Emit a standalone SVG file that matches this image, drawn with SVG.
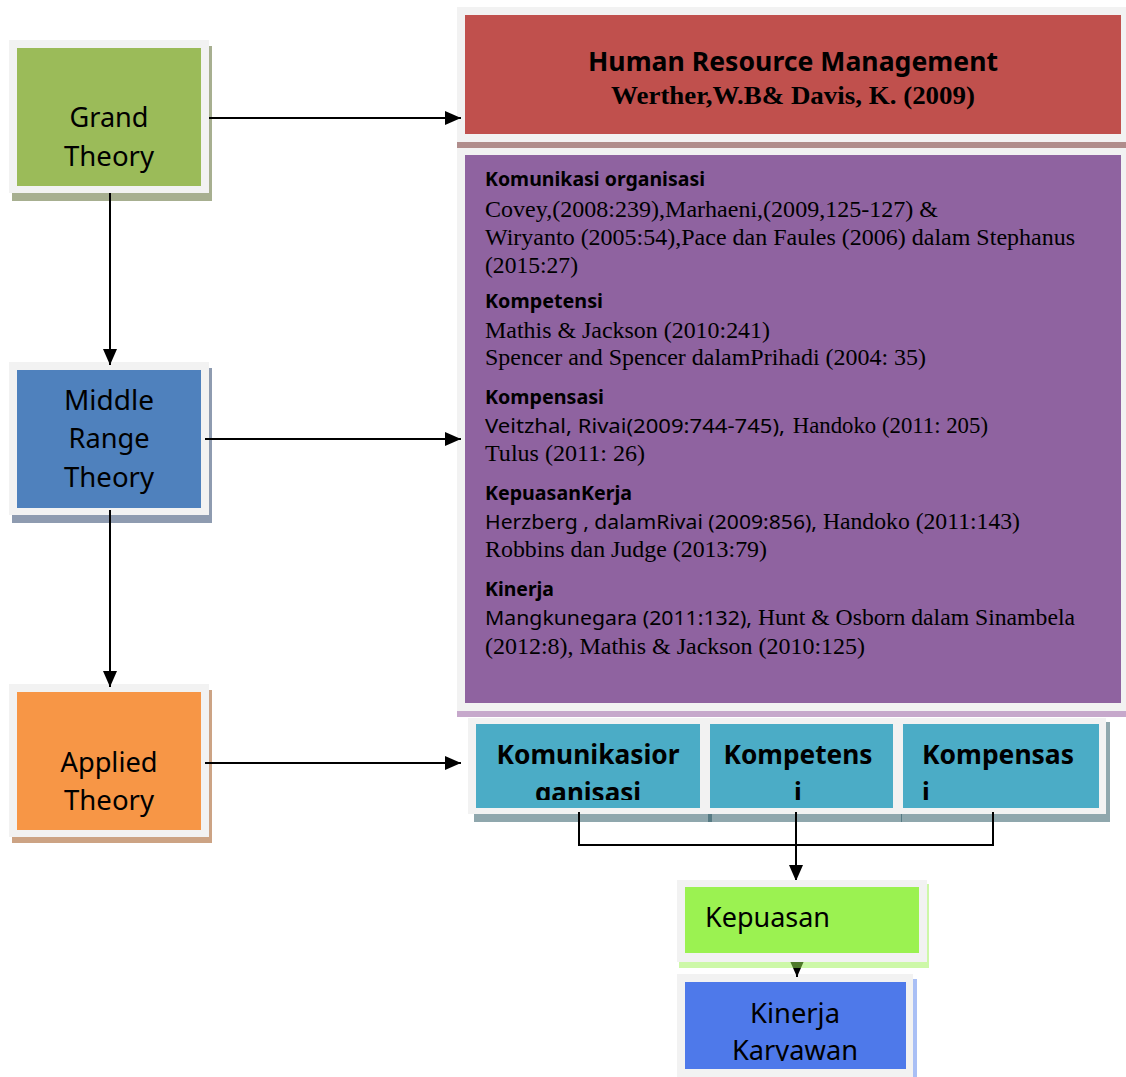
<svg xmlns="http://www.w3.org/2000/svg" width="1126" height="1077" viewBox="0 0 1126 1077">
  <style>
    .frame { fill: #f2f2f2; }
    .sans { font-family: "Noto Sans", "DejaVu Sans", sans-serif; fill: #000; }
    .serif { font-family: "Liberation Serif", "Times New Roman", serif; fill: #000; }
    .big { font-size: 27px; }
    .head { font-size: 19.5px; font-weight: bold; }
    .ref { font-size: 23px; }
    .refsans { font-size: 20px; }
    .tile { font-size: 26px; font-weight: bold; }
    .conn { stroke: #000; stroke-width: 2; fill: none; }
  </style>
  <defs>
    <marker id="arrow" viewBox="0 0 16 14" refX="16" refY="7" markerWidth="16" markerHeight="14" markerUnits="userSpaceOnUse" orient="auto">
      <path d="M0,0 L16,7 L0,14 z" fill="#000"/>
    </marker>
    <clipPath id="clipKom"><rect x="476" y="724" width="224" height="76"/></clipPath>
    <clipPath id="clipKomp"><rect x="710" y="724" width="183" height="76"/></clipPath>
    <clipPath id="clipKomps"><rect x="903" y="724" width="196" height="76"/></clipPath>
    <clipPath id="clipKin"><rect x="685" y="982" width="221" height="79"/></clipPath>
  </defs>

  <rect width="1126" height="1077" fill="#fff"/>

  <!-- left column: theory levels -->
  <g id="grand-theory">
    <rect x="12" y="46" width="200" height="155" fill="#a7af90"/>
    <rect class="frame" x="9" y="40" width="200" height="153"/>
    <rect x="17" y="48" width="184" height="138" fill="#9bbb59"/>
    <text class="sans big" x="109" y="127" text-anchor="middle" textLength="79" lengthAdjust="spacingAndGlyphs">Grand</text>
    <text class="sans big" x="109" y="166" text-anchor="middle" textLength="90" lengthAdjust="spacingAndGlyphs">Theory</text>
  </g>

  <g id="middle-range-theory">
    <rect x="12" y="368" width="200" height="155" fill="#8e9bb0"/>
    <rect class="frame" x="9" y="362" width="200" height="153"/>
    <rect x="17" y="370" width="184" height="138" fill="#4f81bd"/>
    <text class="sans big" x="109" y="410" text-anchor="middle" textLength="90" lengthAdjust="spacingAndGlyphs">Middle</text>
    <text class="sans big" x="109" y="448" text-anchor="middle" textLength="81" lengthAdjust="spacingAndGlyphs">Range</text>
    <text class="sans big" x="109" y="487" text-anchor="middle" textLength="90" lengthAdjust="spacingAndGlyphs">Theory</text>
  </g>

  <g id="applied-theory">
    <rect x="12" y="690" width="200" height="153" fill="#cca384"/>
    <rect class="frame" x="9" y="684" width="200" height="153"/>
    <rect x="17" y="692" width="184" height="138" fill="#f79646"/>
    <text class="sans big" x="109" y="772" text-anchor="middle" textLength="97" lengthAdjust="spacingAndGlyphs">Applied</text>
    <text class="sans big" x="109" y="810" text-anchor="middle" textLength="90" lengthAdjust="spacingAndGlyphs">Theory</text>
  </g>

  <!-- right column -->
  <g id="hrm">
    <rect class="frame" x="457" y="7" width="669" height="136"/>
    <rect x="457" y="142" width="669" height="6" fill="#b08d8c"/>
    <rect x="465" y="15" width="656" height="119" fill="#c0504d"/>
    <text class="sans" x="793" y="71" font-size="26.5" font-weight="bold" text-anchor="middle" textLength="410" lengthAdjust="spacingAndGlyphs">Human Resource Management</text>
    <text class="serif" x="793" y="104" font-size="26" font-weight="bold" text-anchor="middle" textLength="364" lengthAdjust="spacingAndGlyphs">Werther,W.B&amp; Davis, K. (2009)</text>
  </g>

  <g id="references">
    <rect class="frame" x="457" y="148" width="669" height="564"/>
    <rect x="457" y="711" width="669" height="6" fill="#c6a8cb"/>
    <rect x="465" y="155" width="656" height="548" fill="#8f63a0"/>
    <text class="sans head" x="485" y="186" textLength="220" lengthAdjust="spacingAndGlyphs">Komunikasi organisasi</text>
    <text class="serif ref" x="485" y="217" textLength="453" lengthAdjust="spacingAndGlyphs">Covey,(2008:239),Marhaeni,(2009,125-127) &amp;</text>
    <text class="serif ref" x="485" y="245" textLength="590" lengthAdjust="spacingAndGlyphs">Wiryanto (2005:54),Pace dan Faules (2006) dalam Stephanus</text>
    <text class="serif ref" x="485" y="273" textLength="93" lengthAdjust="spacingAndGlyphs">(2015:27)</text>

    <text class="sans head" x="485" y="308" textLength="118" lengthAdjust="spacingAndGlyphs">Kompetensi</text>
    <text class="serif ref" x="485" y="338" textLength="285" lengthAdjust="spacingAndGlyphs">Mathis &amp; Jackson (2010:241)</text>
    <text class="serif ref" x="485" y="365" textLength="441" lengthAdjust="spacingAndGlyphs">Spencer and Spencer dalamPrihadi (2004: 35)</text>

    <text class="sans head" x="485" y="404" textLength="119" lengthAdjust="spacingAndGlyphs">Kompensasi</text>
    <text y="433"><tspan class="sans refsans" x="485" textLength="300" lengthAdjust="spacingAndGlyphs">Veitzhal, Rivai(2009:744-745),</tspan><tspan class="serif ref" x="787" textLength="201" lengthAdjust="spacingAndGlyphs"> Handoko (2011: 205)</tspan></text>
    <text class="serif ref" x="485" y="461" textLength="160" lengthAdjust="spacingAndGlyphs">Tulus (2011: 26)</text>

    <text class="sans head" x="485" y="500" textLength="147" lengthAdjust="spacingAndGlyphs">KepuasanKerja</text>
    <text y="529"><tspan class="sans refsans" x="485" textLength="332" lengthAdjust="spacingAndGlyphs">Herzberg , dalamRivai (2009:856),</tspan><tspan class="serif ref" x="817" textLength="203" lengthAdjust="spacingAndGlyphs"> Handoko (2011:143)</tspan></text>
    <text class="serif ref" x="485" y="557" textLength="282" lengthAdjust="spacingAndGlyphs">Robbins dan Judge (2013:79)</text>

    <text class="sans head" x="485" y="596" textLength="69" lengthAdjust="spacingAndGlyphs">Kinerja</text>
    <text y="625"><tspan class="sans refsans" x="485" textLength="267" lengthAdjust="spacingAndGlyphs">Mangkunegara (2011:132),</tspan><tspan class="serif ref" x="752" textLength="323" lengthAdjust="spacingAndGlyphs"> Hunt &amp; Osborn dalam Sinambela</tspan></text>
    <text class="serif ref" x="485" y="654" textLength="380" lengthAdjust="spacingAndGlyphs">(2012:8), Mathis &amp; Jackson (2010:125)</text>
  </g>

  <!-- applied variables -->
  <g id="komunikasi-organisasi">
    <rect x="474" y="722" width="238" height="100" fill="#1f4f5b" fill-opacity="0.5"/>
    <rect class="frame" x="468" y="718" width="238" height="96"/>
    <rect x="476" y="724" width="224" height="84" fill="#4bacc6"/>
    <g clip-path="url(#clipKom)">
      <text class="sans tile" x="588" y="764" text-anchor="middle" textLength="183" lengthAdjust="spacingAndGlyphs">Komunikasior</text>
      <text class="sans tile" x="588" y="802" text-anchor="middle">ganisasi</text>
    </g>
  </g>

  <g id="kompetensi">
    <rect x="708" y="722" width="194" height="100" fill="#1f4f5b" fill-opacity="0.5"/>
    <rect class="frame" x="704" y="718" width="195" height="96"/>
    <rect x="710" y="724" width="183" height="84" fill="#4bacc6"/>
    <g clip-path="url(#clipKomp)">
      <text class="sans tile" x="798" y="764" text-anchor="middle" textLength="149" lengthAdjust="spacingAndGlyphs">Kompetens</text>
      <text class="sans tile" x="798" y="802" text-anchor="middle">i</text>
    </g>
  </g>

  <g id="kompensasi">
    <rect x="901" y="722" width="209" height="100" fill="#1f4f5b" fill-opacity="0.5"/>
    <rect class="frame" x="897" y="718" width="209" height="96"/>
    <rect x="903" y="724" width="196" height="84" fill="#4bacc6"/>
    <g clip-path="url(#clipKomps)">
      <text class="sans tile" x="922" y="764" textLength="152" lengthAdjust="spacingAndGlyphs">Kompensas</text>
      <text class="sans tile" x="922" y="802">i</text>
    </g>
  </g>

  <!-- outcome: kinerja -->
  <g id="kinerja-karyawan">
    <rect x="913" y="979" width="4" height="98" fill="#a9bff5"/>
    <rect class="frame" x="677" y="974" width="236" height="103"/>
    <rect x="685" y="982" width="221" height="87" fill="#4e79ea"/>
    <g clip-path="url(#clipKin)">
      <text class="sans big" x="795" y="1023" text-anchor="middle" textLength="90" lengthAdjust="spacingAndGlyphs">Kinerja</text>
      <text class="sans big" x="795" y="1060" text-anchor="middle" textLength="126" lengthAdjust="spacingAndGlyphs">Karyawan</text>
    </g>
  </g>

  <!-- connectors -->
  <g id="connectors">
    <line class="conn" x1="110" y1="193" x2="110" y2="365" marker-end="url(#arrow)"/>
    <line class="conn" x1="110" y1="510" x2="110" y2="687" marker-end="url(#arrow)"/>
    <line class="conn" x1="209" y1="118" x2="461" y2="118" marker-end="url(#arrow)"/>
    <line class="conn" x1="205" y1="439" x2="461" y2="439" marker-end="url(#arrow)"/>
    <line class="conn" x1="205" y1="763" x2="461" y2="763" marker-end="url(#arrow)"/>
    <path class="conn" d="M579,812 V845 H993 V812"/>
    <line class="conn" x1="796" y1="812" x2="796" y2="881" marker-end="url(#arrow)"/>
    <line class="conn" x1="797" y1="952" x2="797" y2="977" marker-end="url(#arrow)"/>
  </g>

  <!-- mediator: kepuasan (its translucent shadow sits over the arrow below it) -->
  <g id="kepuasan">
    <rect x="679" y="884" width="250" height="84" fill="#9bf251" fill-opacity="0.5"/>
    <rect class="frame" x="677" y="880" width="250" height="82"/>
    <rect x="685" y="887" width="234" height="66" fill="#9bf251"/>
    <text class="sans big" x="705" y="927" textLength="125" lengthAdjust="spacingAndGlyphs">Kepuasan</text>
  </g>
</svg>
